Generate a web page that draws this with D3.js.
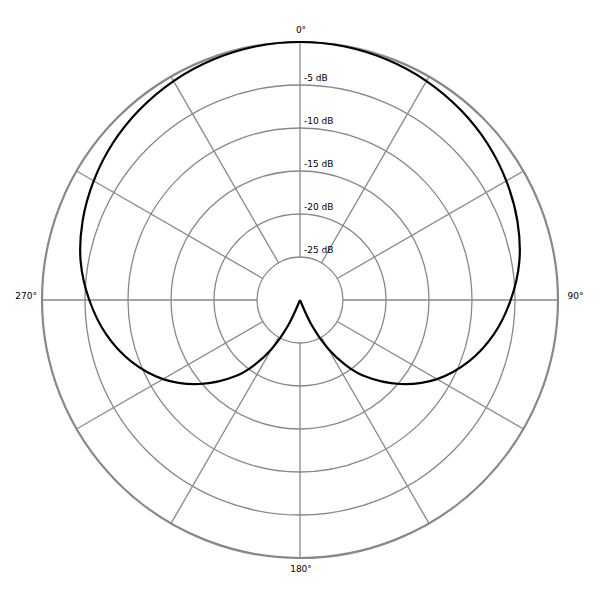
<!DOCTYPE html>
<html>
<head>
<meta charset="utf-8">
<script src="https://cdn.jsdelivr.net/npm/d3@7"></script>
<style>
  html, body { margin: 0; padding: 0; background: #fff; }
  svg { display: block; }
  text { font-family: "DejaVu Sans", sans-serif; font-size: 9px; fill: #000; }
</style>
</head>
<body>
<svg id="chart" width="600" height="600"></svg>
<script>
// Ring levels (dB) and their labels
const ringLevels = [-25, -20, -15, -10, -5];
const ringLabels = ["-25 dB", "-20 dB", "-15 dB", "-10 dB", "-5 dB"];
// Spoke angles (degrees) and axis labels
const spokeAngles = [0, 30, 60, 90, 120, 150, 180, 210, 240, 270, 300, 330];
const axisAngles = [0, 90, 180, 270];
const axisLabels = ["0°", "90°", "180°", "270°"];
// Response pattern: angle (degrees, clockwise from front) and level (dB)
const patternAngles = [-180, -170, -160, -155, -150, -145, -140, -130, -120, -110, -100, -90, -80, -70, -60, -50, -40, -30, -20, -10,
                        0, 10, 20, 30, 40, 50, 60, 70, 80, 90, 100, 110, 120, 130, 140, 145, 150, 155, 160, 170, 180];
const patternDb = [-30, -30, -30, -26.8, -23.5, -20.8, -18.5, -14.8, -11.6, -9.1, -7.1, -5.5, -4.1, -3.1, -2.3, -1.6, -1.05, -0.6, -0.28, -0.07,
                   0, -0.07, -0.28, -0.6, -1.05, -1.6, -2.3, -3.1, -4.1, -5.5, -7.1, -9.1, -11.6, -14.8, -18.5, -20.8, -23.5, -26.8, -30, -30, -30];

const cx = 300, cy = 300;
const svg = d3.select("#chart");
const g = svg.append("g").attr("transform", `translate(${cx},${cy})`);

const r = d3.scaleLinear().domain([-30, 0]).range([0, 258]).clamp(true);
const rad = d => d * Math.PI / 180;
const grid = "#888888";

// spokes from inner ring to outer circle
g.selectAll("line.spoke").data(spokeAngles).join("line")
  .attr("class", "spoke")
  .attr("x1", d => r(-25) * Math.sin(rad(d)))
  .attr("y1", d => -r(-25) * Math.cos(rad(d)))
  .attr("x2", d => r(0) * Math.sin(rad(d)))
  .attr("y2", d => -r(0) * Math.cos(rad(d)))
  .attr("stroke", grid).attr("stroke-width", 1.3);

// rings
g.selectAll("circle.ring").data(ringLevels).join("circle")
  .attr("class", "ring")
  .attr("r", d => r(d))
  .attr("fill", "none").attr("stroke", grid).attr("stroke-width", 1.3);

// outer circle
g.append("circle").attr("r", r(0))
  .attr("fill", "none").attr("stroke", grid).attr("stroke-width", 2.2);

// ring labels
g.selectAll("text.rl").data(ringLevels).join("text")
  .attr("class", "rl")
  .attr("x", 4)
  .attr("y", d => -r(d) - 4)
  .text((d, i) => ringLabels[i]);

// axis labels
const axisPos = {
  0: {x: 1, y: -267.5, anchor: "middle"},
  90: {x: 267.5, y: -1, anchor: "start"},
  180: {x: 1, y: 271.5, anchor: "middle"},
  270: {x: -263, y: -1, anchor: "end"}
};
g.selectAll("text.al").data(axisAngles).join("text")
  .attr("class", "al")
  .attr("x", d => axisPos[d].x)
  .attr("y", d => axisPos[d].y)
  .attr("text-anchor", d => axisPos[d].anchor)
  .text((d, i) => axisLabels[i]);

// pattern curve
const pts = patternAngles.map((a, i) => [rad(a), r(patternDb[i])]);
const line = d3.lineRadial().curve(d3.curveCatmullRom.alpha(0.5));
g.append("path")
  .attr("d", line(pts))
  .attr("fill", "none").attr("stroke", "#000").attr("stroke-width", 2.2)
  .attr("stroke-linejoin", "round");
</script>
</body>
</html>
